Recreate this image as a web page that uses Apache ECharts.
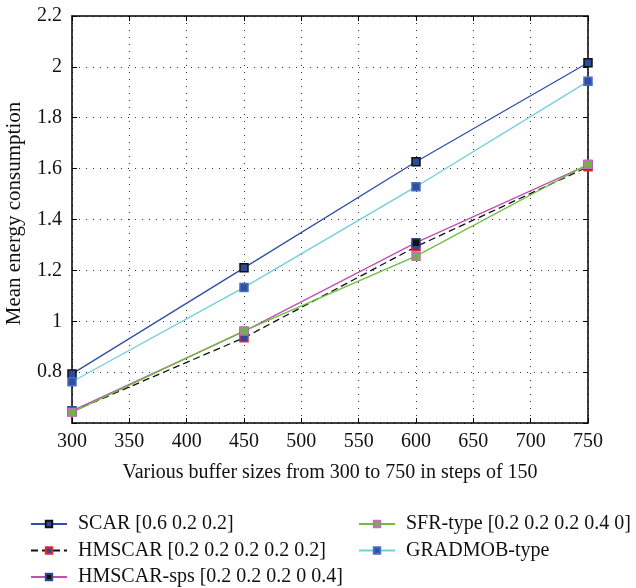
<!DOCTYPE html>
<html><head><meta charset="utf-8">
<script src="https://cdn.jsdelivr.net/npm/echarts@6/dist/echarts.min.js"></script>
<style>html,body{margin:0;padding:0;background:#fff}#c{width:636px;height:588px}</style>
</head><body><div id="c"></div>
<script>
const xValues = [300, 450, 600, 750];
const scar = [0.793, 1.21, 1.627, 2.016];
const hmscar = [0.645, 0.935, 1.293, 1.607];
const hmscarSps = [0.648, 0.96, 1.309, 1.615];
const sfr = [0.642, 0.962, 1.256, 1.617];
const gradmob = [0.762, 1.133, 1.529, 1.943];
const names = ['SCAR [0.6 0.2 0.2]', 'HMSCAR [0.2 0.2 0.2 0.2 0.2]', 'HMSCAR-sps [0.2 0.2 0.2 0 0.4]', 'SFR-type [0.2 0.2 0.2 0.4 0]', 'GRADMOB-type'];

const font = 'Liberation Serif';
const pair = a => a.map((v, i) => [xValues[i], v]);
function mk(name, data, lineColor, fill, border, dashed) {
  return {
    name, type: 'line', data: pair(data), symbol: 'rect', symbolSize: 8,
    lineStyle: { color: lineColor, width: 1.3, type: dashed ? [7, 4] : 'solid' },
    itemStyle: { color: fill, borderColor: border, borderWidth: 1.5 },
    emphasis: { disabled: true }, z: 3
  };
}
const chart = echarts.init(document.getElementById('c'));
const axisBase = {
  axisLine: { show: true, lineStyle: { color: '#000', width: 1.5 } },
  axisTick: { show: true, inside: true, length: 5, lineStyle: { color: '#000' } },
};
const legendText = { fontFamily: font, fontSize: 20, color: '#111', lineHeight: 20, padding: [0, 0, 0, 6] };
chart.setOption({
  animation: false,
  textStyle: { fontFamily: font },
  grid: { left: 72, top: 16, right: 48, bottom: 165, containLabel: false, outerBoundsMode: 'none' },
  xAxis: [{
    type: 'value', min: 300, max: 750, interval: 50, ...axisBase,
    axisLabel: { color: '#111', fontSize: 20, fontFamily: font, margin: 9 },
    splitLine: { show: true, lineStyle: { color: '#333', type: [1, 6], width: 1 } },
    name: 'Various buffer sizes from 300 to 750 in steps of 150', nameLocation: 'middle', nameGap: 40,
    nameTextStyle: { color: '#111', fontSize: 20, fontFamily: font }
  }, {
    type: 'value', position: 'top', min: 300, max: 750, interval: 50, ...axisBase,
    axisLabel: { show: false }, splitLine: { show: false }
  }],
  yAxis: [{
    type: 'value', min: 0.6, max: 2.2, interval: 0.2, ...axisBase,
    axisLabel: { color: '#111', fontSize: 20, fontFamily: font, margin: 10,
      formatter: v => Math.abs(v - 0.6) < 1e-6 ? '' : String(Math.round(v * 10) / 10) },
    splitLine: { show: true, lineStyle: { color: '#333', type: [1, 6], width: 1 } },
    name: 'Mean energy consumption', nameLocation: 'middle', nameGap: 47, nameRotate: 90,
    nameTextStyle: { color: '#111', fontSize: 21, fontFamily: font, padding: [0, 0, 0, 12] }
  }, {
    type: 'value', position: 'right', min: 0.6, max: 2.2, interval: 0.2, ...axisBase,
    axisLabel: { show: false }, splitLine: { show: false }
  }],
  legend: [{
    orient: 'vertical', left: 30, top: 514, itemWidth: 36, itemHeight: 8, itemGap: 6.5, padding: 0,
    data: names.slice(0, 3), textStyle: legendText
  }, {
    orient: 'vertical', left: 358, top: 514, itemWidth: 36, itemHeight: 8, itemGap: 6.5, padding: 0,
    data: names.slice(3), textStyle: legendText
  }],
  series: [
    mk(names[0], scar, '#2f4ea6', '#2b4a9a', '#111', false),
    mk(names[1], hmscar, '#111', '#2b4a9a', '#e8262f', true),
    mk(names[2], hmscarSps, '#c04fb3', '#111', '#2b4a9a', false),
    mk(names[3], sfr, '#6cbf3e', '#6fb543', '#c46fb8', false),
    mk(names[4], gradmob, '#6fd0dc', '#2d4fa5', '#4a6fc0', false)
  ]
});
</script></body></html>
